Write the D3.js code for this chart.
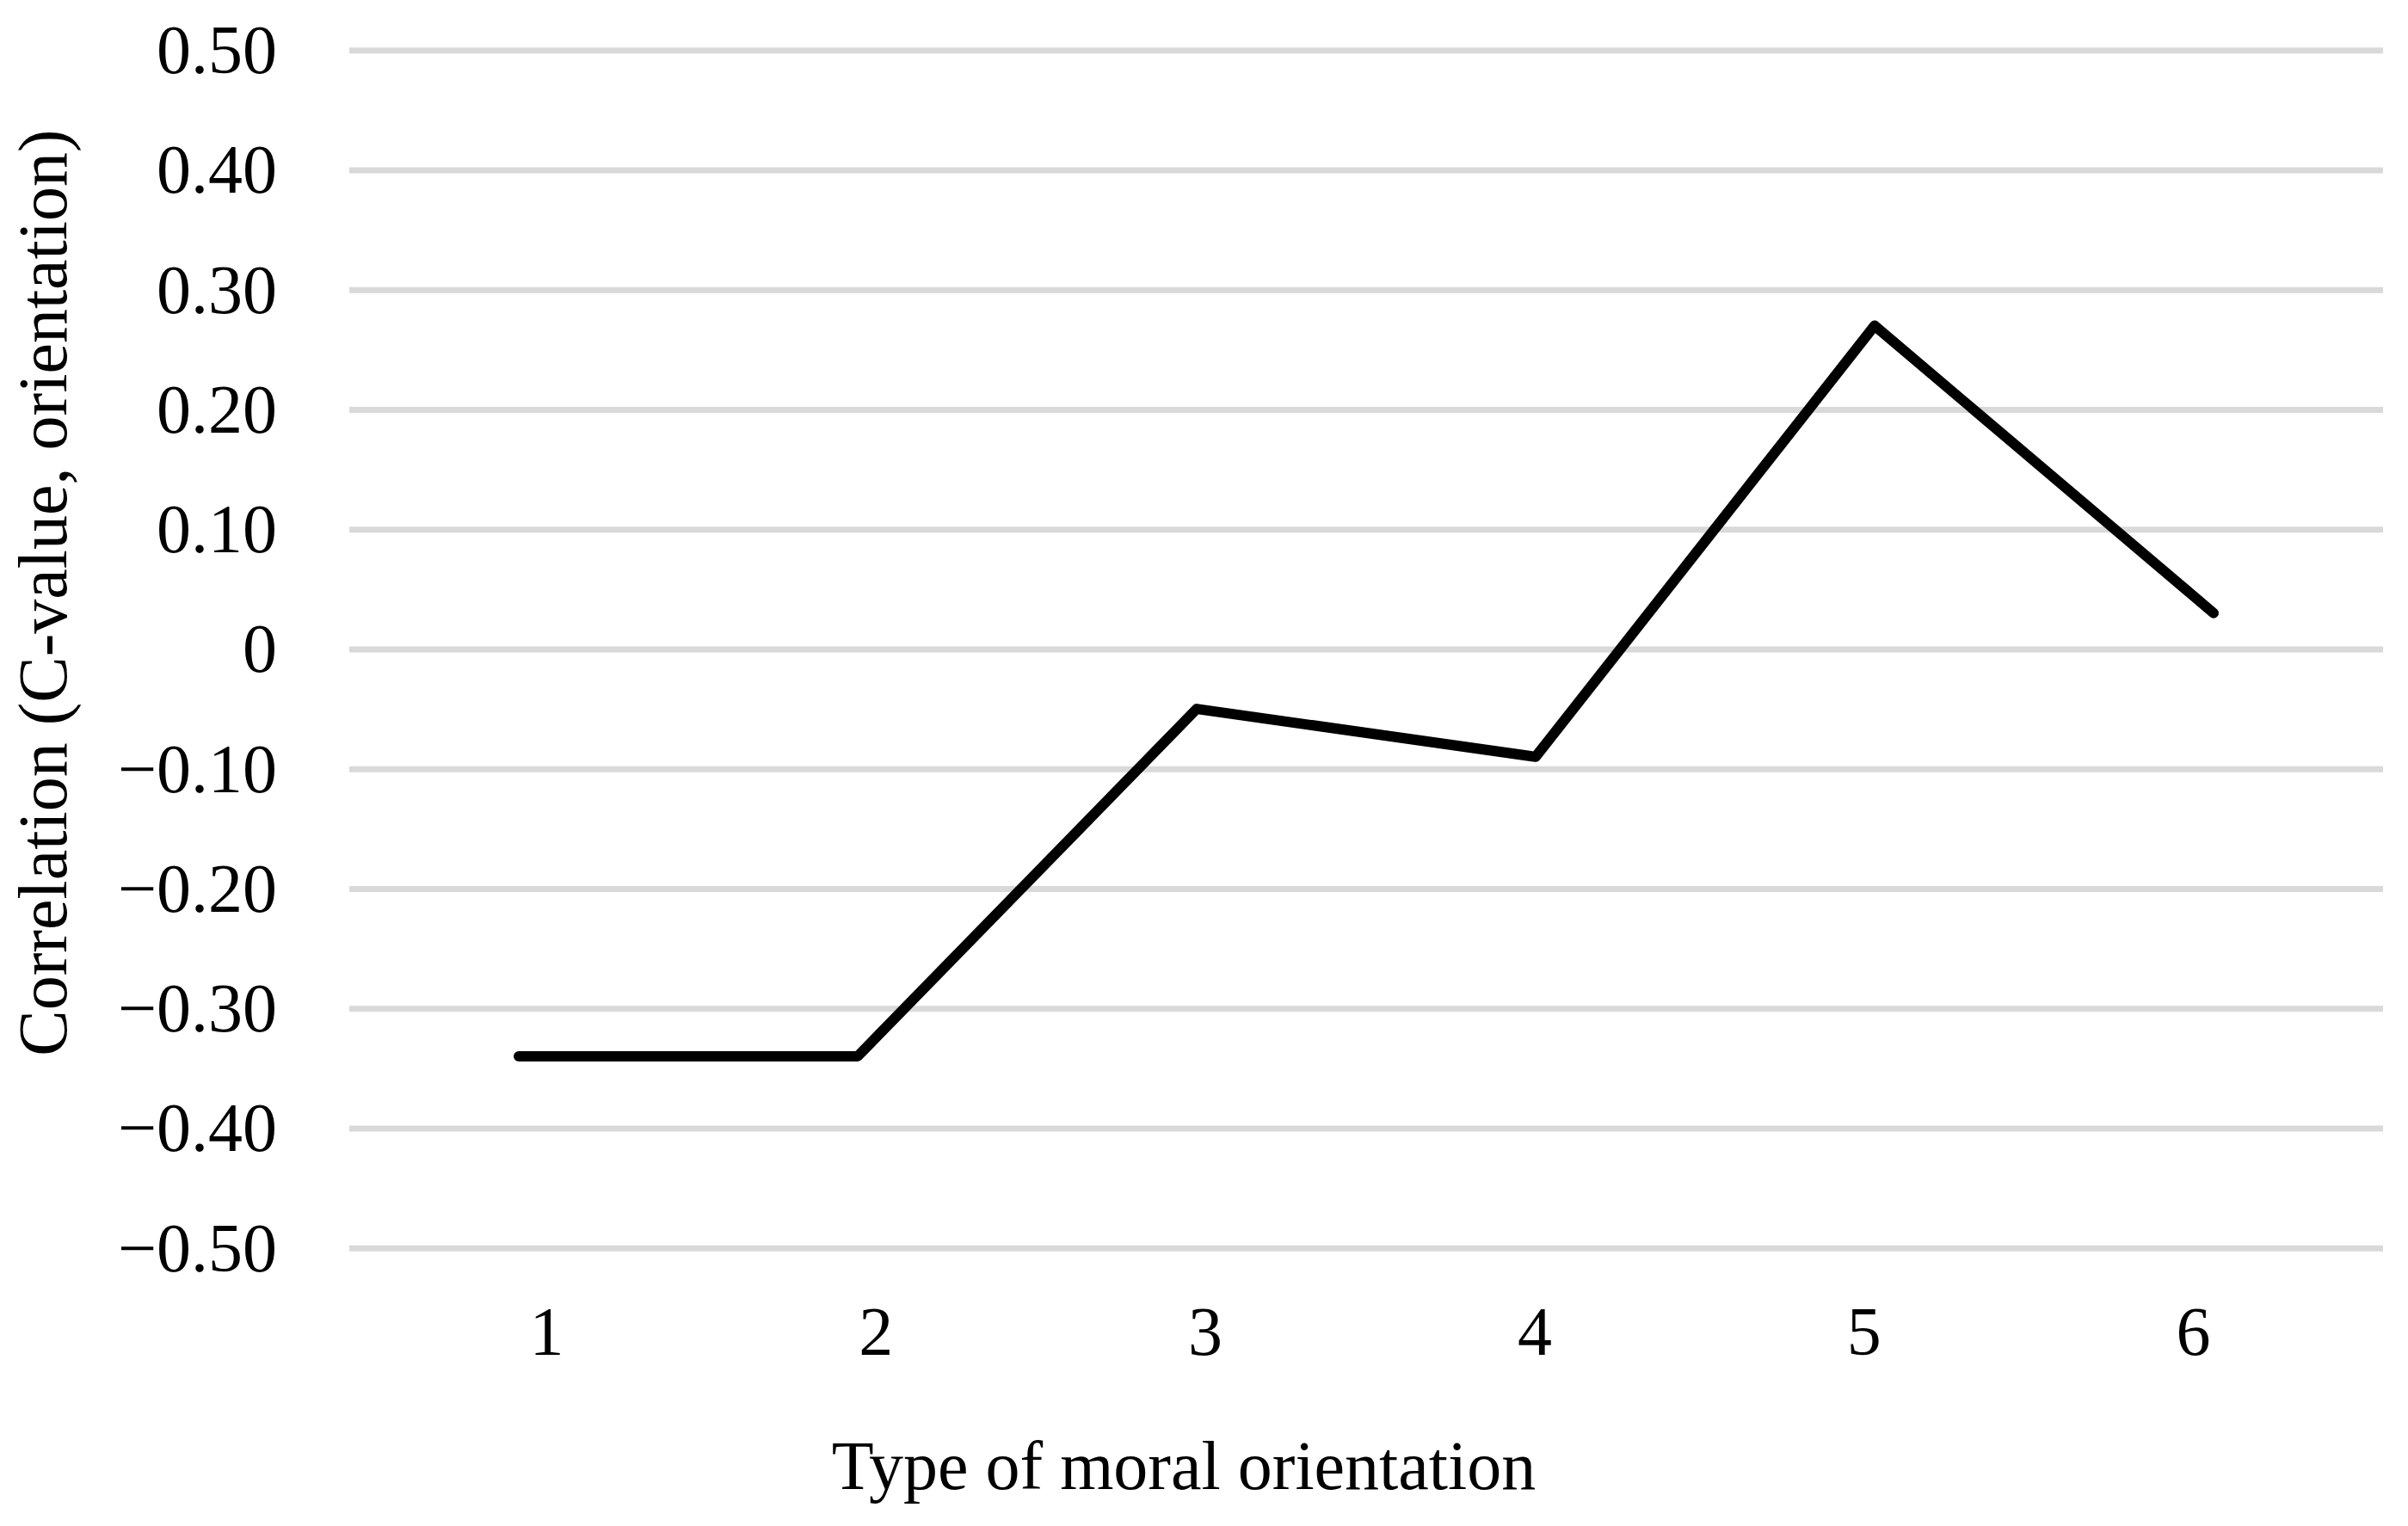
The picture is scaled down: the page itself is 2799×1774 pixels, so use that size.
<!DOCTYPE html>
<html>
<head>
<meta charset="utf-8">
<script src="https://cdn.jsdelivr.net/npm/d3@7/dist/d3.min.js"></script>
<style>
  html, body { margin: 0; padding: 0; background: #ffffff; }
  svg { display: block; }
  text { font-family: "Liberation Serif", "Times New Roman", serif; fill: #000; }
</style>
</head>
<body>
<svg id="chart" width="2799" height="1774"></svg>
<script>
// ---- data ----
const categories = ["1", "2", "3", "4", "5", "6"];
const correlation = [-0.34, -0.34, -0.05, -0.09, 0.27, 0.03];
const yTicks = [-0.5, -0.4, -0.3, -0.2, -0.1, 0, 0.1, 0.2, 0.3, 0.4, 0.5];
const xTitle = "Type of moral orientation";
const yTitle = "Correlation (C-value, orientation)";

// ---- layout ----
const W = 2799, H = 1774;
const plot = { left: 406, right: 2770, top: 58.3, bottom: 1450.7 };
const fontSize = 80;

const svg = d3.select("#chart");

const x = d3.scaleBand()
  .domain(categories)
  .range([plot.left, plot.right])
  .padding(0);

// category labels sit slightly inside the band centres in the original
const xLabel = d3.scalePoint()
  .domain(categories)
  .range([635, 2549]);

const y = d3.scaleLinear()
  .domain([-0.5, 0.5])
  .range([plot.bottom, plot.top]);

const fmt = d => d === 0 ? "0" : d3.format(".2f")(d);

// gridlines
const grid = svg.append("g")
  .attr("transform", `translate(${plot.left},0)`)
  .call(d3.axisLeft(y).tickValues(yTicks).tickSize(-(plot.right - plot.left)).tickFormat(""));
grid.select(".domain").remove();
grid.selectAll(".tick line")
  .attr("stroke", "#d9d9d9")
  .attr("stroke-width", 7);

// y tick labels
const yAxis = svg.append("g")
  .attr("transform", `translate(${plot.left},0)`)
  .call(d3.axisLeft(y).tickValues(yTicks).tickSize(0).tickPadding(84).tickFormat(fmt));
yAxis.select(".domain").remove();
yAxis.selectAll(".tick text")
  .attr("font-size", fontSize)
  .attr("font-family", "Liberation Serif, serif")
  .attr("fill", "#000")
  .attr("dy", "0.33em");

// x tick labels
const xAxis = svg.append("g")
  .attr("transform", `translate(0,${plot.bottom})`)
  .call(d3.axisBottom(xLabel).tickSize(0));
xAxis.select(".domain").remove();
xAxis.selectAll(".tick text")
  .attr("font-size", fontSize)
  .attr("font-family", "Liberation Serif, serif")
  .attr("fill", "#000")
  .attr("dy", null)
  .attr("y", 1575 - plot.bottom);

// line
const line = d3.line()
  .x((d, i) => x(categories[i]) + x.bandwidth() / 2)
  .y(d => y(d));

svg.append("path")
  .datum(correlation)
  .attr("d", line)
  .attr("fill", "none")
  .attr("stroke", "#000")
  .attr("stroke-width", 12)
  .attr("stroke-linecap", "round")
  .attr("stroke-linejoin", "round");

// axis titles
svg.append("text")
  .attr("x", 1376)
  .attr("y", 1731)
  .attr("text-anchor", "middle")
  .attr("font-size", fontSize)
  .text(xTitle);

svg.append("text")
  .attr("transform", `translate(77,689) rotate(-90)`)
  .attr("text-anchor", "middle")
  .attr("font-size", fontSize)
  .text(yTitle);
</script>
</body>
</html>
